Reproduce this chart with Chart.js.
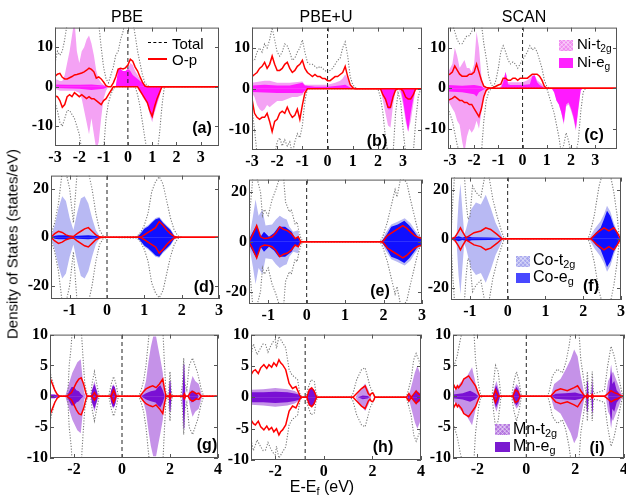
<!DOCTYPE html>
<html>
<head>
<meta charset="utf-8">
<script src="https://cdn.jsdelivr.net/npm/chart.js@4.4.1/dist/chart.umd.min.js"></script>
<style>
  body { margin: 0; background: #fff; }
  #fig { position: relative; width: 626px; height: 497px; overflow: hidden; font-family: Arial, "Liberation Sans", sans-serif; background: #fff; }
  #fig canvas { position: absolute; z-index: 1; }
  .t { position: absolute; white-space: nowrap; color: #000; z-index: 2; line-height: 1; }
  .c { transform: translate(-50%, -50%); }
  .m { transform: translateY(-50%); }
  .lab { font-weight: bold; font-size: 16px; }
  .leg { font-size: 15px; }
  .leg sub, .xt sub { font-size: 0.68em; vertical-align: -0.35em; }
  .box { position: absolute; z-index: 2; }
  .hatch { background-image: repeating-linear-gradient(45deg, rgba(255,255,255,.35) 0 1px, transparent 1px 3px), repeating-linear-gradient(-45deg, rgba(255,255,255,.35) 0 1px, transparent 1px 3px); }
</style>
</head>
<body>
<div id="fig">
  <div class="t c" style="left:127px;top:17px;font-size:16px">PBE</div>
  <div class="t c" style="left:326px;top:17px;font-size:16px">PBE+U</div>
  <div class="t c" style="left:524px;top:17px;font-size:16px">SCAN</div>
  <div class="t c" style="left:12px;top:244px;font-size:15px;transform:translate(-50%,-50%) rotate(-90deg)">Density of States (states/eV)</div>
  <div class="t c xt" style="left:322px;top:488px;font-size:16px">E-E<sub>f</sub> (eV)</div>

  <div class="t c lab" style="left:202px;top:128px">(a)</div>
  <div class="t c lab" style="left:377px;top:141px">(b)</div>
  <div class="t c lab" style="left:594px;top:135px">(c)</div>
  <div class="t c lab" style="left:204px;top:287px">(d)</div>
  <div class="t c lab" style="left:380px;top:291px">(e)</div>
  <div class="t c lab" style="left:591px;top:286px">(f)</div>
  <div class="t c lab" style="left:207px;top:445px">(g)</div>
  <div class="t c lab" style="left:383px;top:447px">(h)</div>
  <div class="t c lab" style="left:597px;top:448px">(i)</div>

  <!-- legend (a) -->
  <div class="box" style="left:148px;top:42px;width:19px;border-top:1.5px dashed #000"></div>
  <div class="t m leg" style="left:172px;top:43px">Total</div>
  <div class="box" style="left:148px;top:58px;width:19px;border-top:2px solid #ff0000"></div>
  <div class="t m leg" style="left:172px;top:59px">O-p</div>
  <!-- legend (c) -->
  <div class="box hatch" style="left:559px;top:40px;width:14px;height:11px;background-color:#f08ef0"></div>
  <div class="t m leg" style="left:577px;top:45px">Ni-t<sub>2g</sub></div>
  <div class="box" style="left:559px;top:58px;width:14px;height:10px;background:#ff22ff"></div>
  <div class="t m leg" style="left:577px;top:63px">Ni-e<sub>g</sub></div>
  <!-- legend (f) -->
  <div class="box hatch" style="left:516px;top:256px;width:14px;height:11px;background-color:#a8a8ee"></div>
  <div class="t m leg" style="left:533px;top:261px;font-size:16px">Co-t<sub>2g</sub></div>
  <div class="box" style="left:516px;top:273px;width:14px;height:10px;background:#4848ff"></div>
  <div class="t m leg" style="left:533px;top:278px;font-size:16px">Co-e<sub>g</sub></div>
  <!-- legend (i) -->
  <div class="box hatch" style="left:495px;top:424px;width:15px;height:11px;background-color:#b678e0"></div>
  <div class="t m leg" style="left:513px;top:430px;font-size:16px">Mn-t<sub>2g</sub></div>
  <div class="box" style="left:495px;top:442px;width:15px;height:10px;background:#7a1ad0"></div>
  <div class="t m leg" style="left:513px;top:447px;font-size:16px">Mn-e<sub>g</sub></div>
</div>

<script>
// tick labels
const XT_ROW1 = [-3, -2, -1, 0, 1, 2, 3];
const YT_ROW1 = [-10, 0, 10];
const XT_ROW2 = [-1, 0, 1, 2, 3];
const YT_ROW2 = [-20, 0, 20];
const XT_ROW3 = [-2, 0, 2, 4];
const YT_ROW3 = [-10, -5, 0, 5, 10];

// ---- (a) PBE, Ni : [energy, DOS] ----
const a_tot_up = [[-3,6],[-2.9,9],[-2.8,8],[-2.7,9],[-2.6,12],[-2.5,16],[-2.4,20],[-1.3,20],[-1.2,16],[-1.1,10],[-1.0,5],[-0.9,2],[-0.8,1],[-0.7,3],[-0.6,5],[-0.5,8],[-0.4,9],[-0.3,12],[-0.2,14],[-0.1,17],[0,15],[0.1,18],[0.2,17],[0.3,13],[0.4,9],[0.5,6],[0.6,3],[0.7,1],[0.8,0.3],[0.9,0],[3.75,0]];
const a_tot_dn = [[-3,-4],[-2.9,-6],[-2.8,-9],[-2.7,-10],[-2.6,-8],[-2.5,-6],[-2.4,-6],[-2.3,-7],[-2.2,-8],[-2.1,-10],[-2.0,-12],[-1.9,-16],[-1.0,-16],[-0.9,-8],[-0.8,-4],[-0.7,-2],[-0.6,-0.5],[-0.5,0],[0.3,0],[0.4,-2],[0.5,-5],[0.6,-9],[0.7,-13],[0.8,-17],[1.2,-17],[1.3,-12],[1.4,-5],[1.5,0],[3.75,0]];
const a_op_up = [[-3,2.6],[-2.9,3.2],[-2.8,3.4],[-2.7,2.4],[-2.6,2],[-2.5,2],[-2.4,2.3],[-2.3,2.6],[-2.2,3],[-2.1,3.1],[-2.0,3.3],[-1.9,3.5],[-1.8,3.8],[-1.7,4.2],[-1.6,4.7],[-1.5,4.4],[-1.4,3.8],[-1.3,2.2],[-1.2,2.5],[-1.1,2],[-1.0,1.2],[-0.9,0.3],[-0.8,0],[-0.7,0],[-0.6,1],[-0.5,2.5],[-0.4,4.5],[-0.3,4.7],[-0.2,4.5],[-0.1,4.8],[0,5.5],[0.1,7],[0.2,6.5],[0.3,5],[0.4,4],[0.5,2.5],[0.6,1.2],[0.7,0.2],[0.8,0],[3.75,0]];
const a_op_dn = [[-3,-2.3],[-2.9,-2.5],[-2.8,-3.5],[-2.7,-5.2],[-2.6,-4.5],[-2.5,-2.5],[-2.4,-2],[-2.3,-2.5],[-2.2,-1.5],[-2.1,-2],[-2.0,-2.5],[-1.9,-2],[-1.8,-2.5],[-1.7,-3],[-1.6,-2.5],[-1.5,-3],[-1.4,-3],[-1.3,-3.5],[-1.2,-4],[-1.1,-4.5],[-1.0,-3.5],[-0.9,-3],[-0.8,-2],[-0.7,-1],[-0.6,0],[0.4,0],[0.5,-1],[0.6,-2],[0.7,-3],[0.8,-4],[0.9,-6],[1.0,-7.5],[1.1,-5],[1.2,-3],[1.3,-1.5],[1.4,0],[3.75,0]];
const a_t2g_up = [[-3,2],[-2.9,1.8],[-2.8,1.5],[-2.7,1.5],[-2.6,3],[-2.5,6],[-2.4,9],[-2.3,13],[-2.2,17],[-2.1,9],[-2.0,6],[-1.9,9],[-1.8,10],[-1.7,12],[-1.6,13],[-1.5,11],[-1.4,8],[-1.3,4],[-1.2,2],[-1.1,1],[-1.0,0.5],[-0.9,0],[-0.5,0],[-0.4,3.5],[-0.3,3.5],[-0.2,3.5],[-0.1,3.5],[0,4.5],[0.1,6],[0.2,5.5],[0.3,4],[0.4,3],[0.5,2],[0.6,1],[0.7,0.3],[0.8,0]];
const a_t2g_dn = [[-3,-0.5],[-2.8,-1],[-2.5,-1],[-2.2,-1],[-2.0,-1.5],[-1.9,-3],[-1.8,-6],[-1.7,-9],[-1.6,-12],[-1.5,-8],[-1.4,-12],[-1.3,-16],[-1.2,-14],[-1.1,-8],[-1.0,-3],[-0.9,-1],[-0.8,0],[0.4,0],[0.5,-1],[0.6,-2.5],[0.7,-3.5],[0.8,-4.5],[0.9,-7],[1.0,-9],[1.1,-6.5],[1.2,-4.5],[1.3,-2.5],[1.4,0]];
const a_eg_up = [[-3,0.6],[-2.5,0.5],[-2.0,0.5],[-1.5,0.6],[-1.0,0.3],[-0.8,0],[-0.5,0],[-0.4,4.5],[-0.3,4.5],[-0.2,4],[-0.1,4],[0,4.5],[0.1,4],[0.2,3],[0.3,2.5],[0.4,2],[0.5,1.5],[0.6,1],[0.7,0.3],[0.8,0]];
const a_eg_dn = [[-3,-0.3],[-2.0,-0.5],[-1.5,-0.8],[-1.0,-0.5],[-0.8,0],[0.4,0],[0.5,-1],[0.6,-2],[0.7,-3],[0.8,-4],[0.9,-6],[1.0,-8],[1.1,-6],[1.2,-4],[1.3,-2],[1.4,0]];

// ---- (b) PBE+U, Ni ----
const b_tot_up = [[-3,7],[-2.9,7],[-2.8,9],[-2.7,10],[-2.6,9],[-2.5,11],[-2.4,10],[-2.3,12],[-2.2,15],[-2.1,12],[-2.0,9],[-1.9,8],[-1.8,9],[-1.7,11],[-1.6,10.5],[-1.5,9],[-1.4,7],[-1.3,7.5],[-1.2,9],[-1.1,10],[-1.0,12],[-0.9,9],[-0.8,6.5],[-0.7,6],[-0.6,6],[-0.5,5.5],[-0.4,5],[-0.3,5.5],[-0.2,5],[-0.1,4.5],[0,4],[0.1,4.5],[0.2,5],[0.3,6],[0.4,7],[0.5,7.5],[0.6,10],[0.7,11.5],[0.8,8],[0.9,3],[1.0,1],[1.1,0.3],[1.2,0]];
const b_tot_dn = [[-3,-5],[-2.9,-10],[-2.8,-16],[-2.1,-16],[-2.0,-13],[-1.9,-12],[-1.8,-14],[-1.7,-12.5],[-1.6,-14],[-1.5,-13],[-1.4,-16],[-1.3,-13],[-1.2,-11],[-1.1,-12],[-1.0,-9],[-0.9,-3],[-0.8,0],[2.0,0],[2.1,-2],[2.2,-6],[2.3,-12],[2.4,-16],[2.6,-16],[2.7,-6],[2.8,-1],[2.9,-3],[3.0,-10],[3.1,-16],[3.4,-16],[3.5,-8],[3.6,-2],[3.7,0]];
const b_op_up = [[-3,3],[-2.9,3.5],[-2.8,4],[-2.7,5],[-2.6,5.5],[-2.5,6.5],[-2.4,5],[-2.3,6],[-2.2,8],[-2.1,6],[-2.0,4.5],[-1.9,4.5],[-1.8,5],[-1.7,6],[-1.6,6.5],[-1.5,5],[-1.4,4],[-1.3,4.5],[-1.2,5.5],[-1.1,6],[-1.0,7],[-0.9,5],[-0.8,4],[-0.7,3.5],[-0.6,3],[-0.5,3.5],[-0.4,3],[-0.3,3],[-0.2,2.5],[-0.1,2.5],[0,2],[0.1,2],[0.2,2.5],[0.3,3],[0.4,3],[0.5,3.5],[0.6,4],[0.7,5.5],[0.8,3],[0.9,1],[1.0,0.3],[1.1,0],[3.75,0]];
const b_op_dn = [[-3,-2.5],[-2.9,-6],[-2.8,-7],[-2.7,-7.5],[-2.6,-7],[-2.5,-7],[-2.4,-6],[-2.3,-8],[-2.2,-10.5],[-2.1,-8],[-2.0,-7.5],[-1.9,-6],[-1.8,-5.5],[-1.7,-6],[-1.6,-4.5],[-1.5,-6],[-1.4,-7],[-1.3,-6.5],[-1.2,-5],[-1.1,-7.5],[-1.0,-4],[-0.9,-1],[-0.8,0],[2.1,0],[2.2,-1.5],[2.3,-2.5],[2.4,-4.5],[2.5,-4.5],[2.6,-2],[2.7,-0.3],[2.8,0],[2.9,0],[3.0,-0.5],[3.1,-2],[3.2,-2.5],[3.3,-2.5],[3.4,-1.5],[3.5,0],[3.75,0]];
const b_t2g_up = [[-3,1.5],[-2.5,2],[-2.3,2],[-2.0,1.5],[-1.5,1.5],[-1.0,1.8],[-0.9,1],[-0.5,1],[0,1],[0.3,1.5],[0.5,2],[0.6,2.5],[0.7,3.5],[0.8,2.5],[0.9,1],[1.0,0.3],[1.1,0]];
const b_t2g_dn = [[-3,-1],[-2.9,-2],[-2.8,-4],[-2.7,-5],[-2.6,-5.5],[-2.5,-5],[-2.4,-4],[-2.3,-4.5],[-2.2,-4],[-2.0,-3],[-1.8,-3],[-1.6,-2.5],[-1.4,-2],[-1.2,-2],[-1.0,-1.5],[-0.9,-0.5],[-0.8,0],[2.1,0],[2.2,-3],[2.3,-6],[2.4,-9],[2.5,-9.5],[2.6,-4],[2.7,-0.5],[2.8,0],[2.9,-1],[3.0,-4],[3.1,-8],[3.2,-10.5],[3.3,-8],[3.4,-4],[3.5,0]];
const b_eg_up = [[-3,0.8],[-2.5,1],[-2.0,0.8],[-1.5,0.8],[-1.0,1.5],[-0.9,0.8],[-0.5,0.5],[0,0.5],[0.5,0.8],[0.7,1],[0.9,0.3],[1.0,0]];
const b_eg_dn = [[-3,-0.8],[-2.0,-1],[-1.0,-1],[-0.8,0],[2.1,0],[2.2,-1.5],[2.3,-3],[2.4,-5],[2.5,-5],[2.6,-2],[2.7,0],[2.9,0],[3.0,-3],[3.1,-7],[3.2,-10.5],[3.3,-6],[3.4,-2.5],[3.5,0]];

// ---- (c) SCAN, Ni ----
const c_tot_up = [[-3.08,16],[-2.9,16],[-2.8,14],[-2.7,12],[-2.6,11],[-2.5,11],[-2.4,12],[-2.3,13],[-2.2,13],[-2.1,14],[-2.0,16],[-1.7,16],[-1.6,11],[-1.5,7.5],[-1.4,3],[-1.3,1],[-1.2,0.3],[-1.1,2],[-1.0,5],[-0.9,9],[-0.8,10.5],[-0.7,9],[-0.6,7],[-0.5,6],[-0.4,6.5],[-0.3,6],[-0.2,5],[-0.1,6],[0,7],[0.1,8],[0.2,9],[0.3,10.5],[0.4,9.5],[0.5,10],[0.6,9],[0.7,7],[0.8,5],[0.9,2],[1.0,0.5],[1.1,0]];
const c_tot_dn = [[-3.08,-5],[-2.9,-8],[-2.8,-11],[-2.7,-14],[-2.6,-16],[-1.7,-16],[-1.6,-8],[-1.5,-3],[-1.4,-1],[-1.3,0],[1.0,0],[1.1,-2],[1.2,-4],[1.3,-6],[1.4,-9],[1.5,-12],[1.6,-16],[1.7,-14],[1.8,-11],[1.9,-13],[2.0,-16],[2.2,-16],[2.3,-13],[2.4,-6],[2.5,-1],[2.6,0]];
const c_op_up = [[-3.08,3.3],[-3.0,3.5],[-2.9,4],[-2.8,5.5],[-2.7,4.5],[-2.6,3.5],[-2.5,3],[-2.4,3],[-2.3,3],[-2.2,3.5],[-2.1,3.5],[-2.0,4],[-1.9,6],[-1.8,4],[-1.7,2],[-1.6,0.5],[-1.5,0.2],[-1.3,0],[-1.2,0.2],[-1.1,0.5],[-1.0,0.8],[-0.9,1],[-0.8,2.5],[-0.7,2.5],[-0.6,2],[-0.5,2],[-0.4,2.5],[-0.3,2.5],[-0.2,2],[-0.1,2.5],[0,2.5],[0.1,2.5],[0.2,2.5],[0.3,3],[0.4,3.5],[0.5,3.5],[0.6,3.5],[0.7,3],[0.8,2],[0.9,0.5],[1.0,0],[3.9,0]];
const c_op_dn = [[-3.08,-3],[-2.9,-2.5],[-2.8,-2],[-2.7,-2.5],[-2.6,-3],[-2.5,-3],[-2.4,-3.5],[-2.3,-3.5],[-2.2,-4],[-2.1,-4],[-2.0,-5],[-1.9,-6],[-1.8,-7],[-1.7,-5],[-1.6,-2],[-1.5,-0.5],[-1.4,0],[3.9,0]];
const c_t2g_up = [[-3.08,4],[-2.9,6],[-2.8,10],[-2.7,8],[-2.6,5],[-2.5,6],[-2.4,7],[-2.3,5],[-2.2,5],[-2.1,4],[-2.0,6],[-1.9,14],[-1.8,10],[-1.7,3],[-1.6,0.5],[-1.5,0],[-1.0,0],[-0.9,0.5],[-0.8,2],[-0.7,4],[-0.6,1.5],[-0.5,1.5],[-0.3,1.5],[0,1.5],[0.2,2],[0.3,2.5],[0.4,3.2],[0.5,3.2],[0.6,2],[0.7,1.5],[0.8,1],[0.9,0.3],[1.0,0]];
const c_t2g_dn = [[-3.08,-3],[-2.9,-5],[-2.8,-6],[-2.7,-8],[-2.6,-9],[-2.5,-13],[-2.4,-16],[-2.3,-12],[-2.2,-10],[-2.1,-11],[-2.0,-10],[-1.9,-8],[-1.8,-10],[-1.7,-6],[-1.6,-2],[-1.5,-0.5],[-1.4,0],[1.3,0],[1.4,-3],[1.5,-4],[1.6,-6],[1.7,-9],[1.8,-4.5],[1.9,-4],[2.0,-5.5],[2.1,-7.5],[2.2,-10.5],[2.3,-5.5],[2.4,-0.5],[2.5,0]];
const c_eg_up = [[-3.08,0.8],[-2.5,0.6],[-2.0,0.8],[-1.7,0.5],[-1.6,0],[-0.9,0],[-0.8,1.5],[-0.7,4],[-0.6,1],[-0.5,0.8],[0,0.8],[0.3,1],[0.4,3],[0.5,3.2],[0.6,1.5],[0.7,0.8],[0.8,0.5],[0.9,0]];
const c_eg_dn = [[-3.08,-0.8],[-2.5,-1],[-2.0,-1.5],[-1.9,-2],[-1.8,-1],[-1.6,-0.3],[-1.5,0],[1.2,0],[1.3,-1],[1.4,-3],[1.5,-4],[1.6,-6],[1.7,-8.5],[1.8,-4],[1.9,-3.5],[2.0,-5],[2.1,-7],[2.2,-10],[2.3,-5],[2.4,-0.5],[2.5,0]];

// ---- (d)-(f) Co, spin up = spin down ----
const d_tot = [[-1.5,1],[-1.4,6],[-1.3,14],[-1.2,27],[-1.1,27],[-1.0,20],[-0.9,6],[-0.8,27],[-0.5,27],[-0.4,20],[-0.3,10],[-0.2,3],[-0.1,0.5],[0,0],[0.8,0.3],[0.9,2],[1.0,5],[1.1,10],[1.2,19],[1.3,23],[1.4,25],[1.5,22],[1.6,15],[1.7,8],[1.8,3],[1.9,0.5],[2.0,0]];
const d_op = [[-1.5,0],[-1.4,1.5],[-1.3,2.5],[-1.2,2],[-1.1,1],[-1.0,0.5],[-0.9,0.3],[-0.8,1.5],[-0.7,2.5],[-0.6,3.5],[-0.5,4],[-0.4,2.5],[-0.3,1],[-0.2,0.2],[-0.1,0],[0.9,0],[1.0,1],[1.1,2],[1.2,3],[1.3,4],[1.4,6.5],[1.5,5],[1.6,3],[1.7,1.5],[1.8,0.3],[1.9,0],[3,0]];
const d_t2g = [[-1.5,0.5],[-1.4,5],[-1.3,12],[-1.2,17],[-1.1,15],[-1.0,8],[-0.9,3],[-0.8,10],[-0.7,16],[-0.6,17],[-0.5,14],[-0.4,8],[-0.3,3],[-0.2,0.5],[-0.1,0],[0.8,0],[0.9,2],[1.0,4],[1.1,5],[1.2,6.5],[1.3,8],[1.4,8.5],[1.5,6.5],[1.6,5],[1.7,3.5],[1.8,1],[1.9,0]];
const d_eg = [[-1.5,0],[-1.4,0.6],[-1.3,0.8],[-1.1,0.8],[-1.0,0.5],[-0.9,0.3],[-0.8,0.6],[-0.5,0.8],[-0.3,0.5],[-0.2,0.2],[-0.1,0],[0.8,0],[0.9,1.5],[1.0,3.5],[1.1,4.5],[1.2,6],[1.3,7.5],[1.4,8],[1.5,6],[1.6,4.5],[1.7,3],[1.8,0.5],[1.9,0]];

const e_tot = [[-1.5,8],[-1.4,26],[-1.3,26],[-1.2,20],[-1.15,10.5],[-1.1,13],[-1.0,10.5],[-0.9,17],[-0.8,21],[-0.7,26],[-0.6,26],[-0.55,16],[-0.45,12],[-0.4,13],[-0.3,7],[-0.25,8],[-0.2,4],[-0.15,1.5],[-0.1,0],[1.9,0],[1.95,1],[2.0,3],[2.1,8],[2.2,14.5],[2.3,21],[2.35,18],[2.45,26],[2.6,24],[2.7,17],[2.8,10.5],[2.9,4],[3.0,0]];
const e_op = [[-1.5,0],[-1.4,3],[-1.3,6.5],[-1.2,2],[-1.1,1.3],[-1.0,1.5],[-0.9,2],[-0.8,3.5],[-0.7,6],[-0.6,5],[-0.5,4.5],[-0.4,3.3],[-0.3,1.3],[-0.22,2],[-0.15,0],[1.95,0],[2.0,0.5],[2.1,2.5],[2.2,3.5],[2.3,4.5],[2.4,5.5],[2.5,6.5],[2.6,5.5],[2.7,4],[2.8,2.6],[2.9,1.8],[3.0,1.3]];
const e_t2g = [[-1.5,1],[-1.4,10],[-1.33,17],[-1.25,10.5],[-1.15,13],[-1.07,6.6],[-0.9,7],[-0.8,9],[-0.7,10.5],[-0.6,9.5],[-0.52,9],[-0.45,6],[-0.35,4],[-0.22,4.6],[-0.17,0],[1.95,0],[2.05,3.5],[2.2,7],[2.35,8],[2.55,9.5],[2.7,7.5],[2.8,5],[2.9,3],[3.0,1.5]];
const e_eg = [[-1.5,1],[-1.4,4],[-1.3,6.6],[-1.2,2],[-1.11,4],[-0.98,2],[-0.85,3.5],[-0.73,6],[-0.56,6],[-0.39,4],[-0.3,1.3],[-0.22,2],[-0.17,0],[1.94,0],[2.07,2.6],[2.2,6],[2.37,7],[2.54,8.5],[2.67,6.6],[2.8,4],[2.89,2],[3.0,1]];

const f_tot = [[-1.5,2],[-1.45,16],[-1.4,27],[-1.15,27],[-1.1,15],[-1.05,8],[-1.0,9],[-0.93,21.6],[-0.84,19],[-0.71,17],[-0.6,26],[-0.5,26],[-0.39,16],[-0.28,9.3],[-0.19,4.5],[-0.1,0.4],[0,0],[2.1,0],[2.16,1],[2.29,9.3],[2.42,21.6],[2.5,26],[2.72,26],[2.81,19],[2.9,9.3],[2.95,1],[3.0,0]];
const f_op = [[-1.5,0],[-1.4,0.5],[-1.3,3],[-1.25,4.5],[-1.2,3],[-1.1,0.4],[-0.89,2.5],[-0.71,3.2],[-0.58,4.5],[-0.45,3.8],[-0.28,1.8],[-0.15,0],[2.2,0],[2.37,2.5],[2.55,4.5],[2.68,3.2],[2.81,4.5],[2.9,2.5],[2.97,0.5],[3.0,0]];
const f_t2g = [[-1.5,0],[-1.35,2],[-1.3,15],[-1.25,22.5],[-1.2,12],[-1.15,2],[-1.1,4],[-0.97,12],[-0.84,14.8],[-0.71,14],[-0.58,18],[-0.45,12.7],[-0.32,6.6],[-0.19,2.5],[-0.12,0],[2.15,0],[2.3,4],[2.45,7],[2.55,10],[2.63,13.5],[2.72,11],[2.81,6.5],[2.9,3],[2.95,0.5],[3.0,0]];
const f_eg = [[-1.5,0],[-1.4,0.5],[-1.3,1],[-1.2,0.5],[-1.05,1],[-0.95,0.6],[-0.5,0.5],[-0.2,0.3],[-0.12,0],[2.2,0],[2.33,2.5],[2.46,4.5],[2.55,8],[2.63,11.5],[2.72,9.3],[2.81,5.2],[2.9,2.5],[2.95,0.3],[3.0,0]];

// ---- (g)-(i) Mn, spin up = spin down ----
const g_tot = [[-3,4],[-2.9,2.5],[-2.8,1],[-2.7,0.3],[-2.6,0],[-2.3,0],[-2.25,1],[-2.2,5],[-2.12,8],[-2.07,11],[-1.7,11],[-1.62,6],[-1.55,2],[-1.47,0.5],[-1.4,0],[-1.3,0],[-1.25,2],[-1.15,4],[-1.05,2],[-0.95,0],[-0.55,0],[-0.45,2],[-0.35,3.2],[-0.25,2],[-0.15,0],[0.7,0],[0.8,1],[0.9,2.5],[1.0,5],[1.1,9],[1.15,11],[1.7,11],[1.76,6],[1.83,0.6],[1.9,0],[1.95,1],[2.0,4],[2.05,1],[2.1,0],[2.45,0],[2.52,2],[2.57,6.2],[2.62,2],[2.7,1],[2.8,5],[2.94,6.2],[3.15,3.8],[3.3,1.2],[3.4,0],[4,0]];
const g_op = [[-3,3],[-2.9,2],[-2.8,1],[-2.7,0.3],[-2.6,0],[-2.3,0],[-2.1,0.6],[-2.0,1.4],[-1.9,2.2],[-1.8,2.8],[-1.7,3],[-1.6,2],[-1.5,0.4],[-1.45,0],[-1.25,0],[-1.15,0.6],[-1.05,0],[-0.45,0],[-0.35,1],[-0.25,0],[0.75,0],[0.9,0.8],[1.0,1.2],[1.15,1.5],[1.28,1.7],[1.42,1.4],[1.56,2],[1.7,2.8],[1.76,1.4],[1.83,0],[1.95,0],[2.0,0.4],[2.05,0],[2.55,0],[2.6,0.4],[2.65,0],[2.75,0],[2.85,0.6],[2.95,0.8],[3.1,0.4],[3.2,0.5],[3.3,0],[4,0]];
const g_t2g = [[-3,0.3],[-2.8,0.2],[-2.4,0],[-2.35,0.2],[-2.2,2.2],[-2.07,3.8],[-1.86,5.5],[-1.72,6],[-1.65,3.3],[-1.58,0.6],[-1.5,0],[-1.3,0],[-1.25,1],[-1.15,2.5],[-1.05,1],[-0.98,0],[-0.5,0],[-0.45,1],[-0.35,2],[-0.25,1],[-0.2,0],[0.78,0],[0.9,1],[1.0,2.5],[1.1,5.5],[1.2,8],[1.3,9.7],[1.42,9.7],[1.5,8],[1.6,6],[1.7,3.8],[1.76,0.6],[1.82,0],[1.95,0],[2.0,3],[2.05,0],[2.5,0],[2.57,3],[2.62,0],[2.75,0],[2.85,2],[2.94,3.3],[3.05,2.5],[3.2,2],[3.3,0.5],[3.35,0]];
const g_eg = [[-3,0.3],[-2.8,0.3],[-2.6,0],[-2.3,0],[-2.2,0.8],[-2.1,1.5],[-2.0,1.5],[-1.9,1],[-1.8,0.8],[-1.7,0.3],[-1.6,0],[-1.3,0],[-1.25,1],[-1.15,2],[-1.05,0.8],[-1.0,0],[-0.5,0],[-0.45,1],[-0.38,1.8],[-0.3,1.5],[-0.22,0],[0.8,0],[1.0,0.5],[1.2,0.8],[1.4,1],[1.5,1.5],[1.6,1.8],[1.7,1],[1.78,0],[1.95,0],[1.98,2.5],[2.02,2.5],[2.06,0],[2.52,0],[2.56,5.2],[2.6,5.2],[2.64,0],[2.8,0],[2.9,1],[3.0,0.8],[3.1,0.5],[3.2,0]];

const h_tot = [[-3,6.8],[-2.9,8.5],[-2.82,7.6],[-2.75,6.8],[-2.6,7.9],[-2.5,8.5],[-2.4,8.4],[-2.3,7.2],[-2.2,8.1],[-2.1,8.8],[-2.0,9.2],[-1.95,7.8],[-1.85,9.7],[-1.7,8.7],[-1.57,7.9],[-1.43,4.4],[-1.3,3.5],[-1.22,3.3],[-1.08,2.8],[-0.99,0.6],[-0.9,0],[-0.72,0],[-0.67,1.2],[-0.53,2.8],[-0.39,2.5],[-0.32,0.6],[-0.25,0],[1.1,0],[1.2,0.6],[1.35,2.8],[1.55,4.4],[1.7,4.7],[1.83,2.8],[1.9,1.7],[2.04,0.6],[2.1,0],[3.4,0],[3.5,1.5],[3.6,3],[3.7,6],[3.8,7],[3.9,6],[4.0,5]];
const h_op = [[-3,3.6],[-2.9,4.2],[-2.82,4.4],[-2.7,3.8],[-2.6,4.7],[-2.47,5.2],[-2.35,4.6],[-2.26,5.2],[-2.15,4.8],[-2.06,5.5],[-1.95,5],[-1.85,6],[-1.78,5.5],[-1.7,5.2],[-1.57,4.4],[-1.43,2.2],[-1.29,1.4],[-1.15,1.7],[-1.0,0.4],[-0.94,0],[-0.7,0],[-0.6,1.2],[-0.5,1.5],[-0.4,1],[-0.3,0],[1.2,0],[1.35,0.6],[1.55,1.4],[1.7,1.8],[1.83,0.6],[1.9,0.3],[1.95,0.6],[2.0,0.7],[2.05,0.5],[2.1,0],[3.4,0],[3.5,0.6],[3.6,0],[3.7,0.5],[3.8,1],[3.9,0.5],[4,0.3]];
const h_t2g = [[-3,1.2],[-2.5,1.3],[-2.0,1.5],[-1.5,1.3],[-1.2,1],[-1.0,0.5],[-0.9,0],[-0.7,0],[-0.6,1],[-0.5,1.5],[-0.4,1],[-0.3,0],[1.3,0],[1.45,1],[1.55,1.4],[1.7,2.2],[1.83,1.2],[1.95,0],[3.45,0],[3.55,1],[3.65,2.5],[3.75,4],[3.85,5],[3.95,4],[4,3]];
const h_eg = [[-3,0.8],[-2.5,0.8],[-2.0,0.9],[-1.5,0.8],[-1.2,0.6],[-1.0,0.4],[-0.9,0],[-0.7,0],[-0.6,1.2],[-0.5,1.5],[-0.4,1.2],[-0.3,0],[1.4,0],[1.6,0.3],[1.8,0.2],[1.9,0],[3.45,0],[3.5,0.7],[3.55,0],[3.7,0.5],[3.8,1],[3.9,0.8],[4,0.5]];

const i_tot = [[-3,4.4],[-2.83,6.5],[-2.7,9.2],[-2.6,11],[-2.15,11],[-2.08,6],[-1.95,1.7],[-1.88,0.4],[-1.8,0],[-1.4,0],[-1.35,2],[-1.26,5],[-1.15,4],[-1.05,0.5],[-1.0,0],[-0.6,0],[-0.5,2.5],[-0.4,4],[-0.3,2.5],[-0.2,0],[0.85,0],[0.93,0.6],[1.07,3.3],[1.27,4.4],[1.48,3.8],[1.62,5.5],[1.75,8.1],[1.85,11],[2.15,11],[2.23,6],[2.37,2.2],[2.45,0.5],[2.5,4],[2.55,0.5],[2.65,0.5],[2.7,4],[2.75,0.5],[2.85,0.5],[3.2,1],[3.33,4.9],[3.47,8.1],[3.6,6.5],[3.74,3.8],[3.88,1.2],[3.95,0],[4,0]];
const i_op = [[-3,1.2],[-2.95,1.7],[-2.88,1.2],[-2.82,1.7],[-2.77,1.4],[-2.65,2],[-2.56,2.8],[-2.36,3.3],[-2.22,2.5],[-2.08,1.7],[-1.95,0.4],[-1.9,0],[-1.35,0],[-1.26,1],[-1.15,0],[-0.55,0],[-0.45,1],[-0.35,0.8],[-0.25,0],[1.0,0],[1.2,0.9],[1.4,1.2],[1.68,0.9],[1.96,1.4],[2.1,1.7],[2.23,0.9],[2.37,0.1],[2.45,0],[2.5,0.3],[2.55,0],[2.65,0],[2.7,0.3],[2.75,0],[3.2,0],[3.33,0.4],[3.47,0.9],[3.6,0.6],[3.74,0.4],[3.88,0.1],[4,0]];
const i_t2g = [[-3,0.6],[-2.7,2.2],[-2.42,3.3],[-2.22,4.7],[-2.08,2.2],[-1.95,0.4],[-1.9,0],[-1.38,0],[-1.3,1.5],[-1.22,2.5],[-1.12,1],[-1.05,0],[-0.6,0],[-0.5,1.2],[-0.4,2],[-0.3,1.5],[-0.22,0],[1.0,0],[1.14,2],[1.4,2.8],[1.62,4.4],[1.82,6],[1.96,7.6],[2.1,6.5],[2.23,3.3],[2.37,0.5],[2.45,0],[2.5,3],[2.55,0],[2.65,0],[2.7,3.5],[2.75,0],[3.25,0],[3.35,2.5],[3.45,3.3],[3.55,4],[3.65,3],[3.8,1.5],[3.9,0.3],[4,0]];
const i_eg = [[-3,0.3],[-2.6,0.5],[-2.3,0.9],[-2.1,0.5],[-1.95,0],[-1.38,0],[-1.3,1],[-1.24,1.8],[-1.15,1],[-1.08,0],[-0.55,0],[-0.48,1],[-0.4,1.5],[-0.32,1],[-0.25,0],[1.0,0],[1.2,0.4],[1.6,0.5],[2.0,0.6],[2.3,0.3],[2.45,0],[2.48,2.5],[2.52,2.5],[2.55,0],[2.67,0],[2.7,2.5],[2.73,0],[3.35,0],[3.42,2],[3.47,5.2],[3.52,2],[3.6,2.5],[3.7,1],[3.8,0.5],[3.9,0]];

// colours of the projected d states
const NI = { t2g: '#f4a2f4', eg: '#ff1aff' };
const CO = { t2g: '#b8b9f3', eg: '#1010ff' };
const MN = { t2g: '#c592e8', eg: '#7a10d4' };

// plot boxes in page pixels: left, top, right, bottom
const PANELS = [
  { box: [55, 26, 219, 146], x: [-3, 3.75], y: [-15, 15], xt: XT_ROW1, yt: YT_ROW1, ef: 0, col: NI,
    up: { tot: a_tot_up, op: a_op_up, t2g: a_t2g_up, eg: a_eg_up }, dn: { tot: a_tot_dn, op: a_op_dn, t2g: a_t2g_dn, eg: a_eg_dn } },
  { box: [252, 26, 422, 150], x: [-3, 3.75], y: [-15, 15], xt: XT_ROW1, yt: YT_ROW1, ef: 0, col: NI,
    up: { tot: b_tot_up, op: b_op_up, t2g: b_t2g_up, eg: b_eg_up }, dn: { tot: b_tot_dn, op: b_op_dn, t2g: b_t2g_dn, eg: b_eg_dn } },
  { box: [448, 26, 617, 149], x: [-3.08, 3.9], y: [-15, 15], xt: XT_ROW1, yt: YT_ROW1, ef: 0, col: NI,
    up: { tot: c_tot_up, op: c_op_up, t2g: c_t2g_up, eg: c_eg_up }, dn: { tot: c_tot_dn, op: c_op_dn, t2g: c_t2g_dn, eg: c_eg_dn } },
  { box: [51, 174, 219, 299], x: [-1.5, 3], y: [-25.5, 25.5], xt: XT_ROW2, yt: YT_ROW2, ef: 0, col: CO,
    up: { tot: d_tot, op: d_op, t2g: d_t2g, eg: d_eg } },
  { box: [249, 178, 422, 304], x: [-1.5, 3], y: [-25, 25], xt: XT_ROW2, yt: YT_ROW2, ef: 0, col: CO,
    up: { tot: e_tot, op: e_op, t2g: e_t2g, eg: e_eg } },
  { box: [451, 176, 621, 300], x: [-1.5, 3], y: [-25, 25], xt: XT_ROW2, yt: YT_ROW2, ef: 0, col: CO,
    up: { tot: f_tot, op: f_op, t2g: f_t2g, eg: f_eg } },
  { box: [50, 333, 218, 458], x: [-3, 4], y: [-10, 10], xt: XT_ROW3, yt: YT_ROW3, ef: 0, col: MN,
    up: { tot: g_tot, op: g_op, t2g: g_t2g, eg: g_eg } },
  { box: [251, 333, 421, 460], x: [-3, 4], y: [-10, 10], xt: XT_ROW3, yt: YT_ROW3, ef: -0.77, col: MN,
    up: { tot: h_tot, op: h_op, t2g: h_t2g, eg: h_eg } },
  { box: [453, 333, 624, 458], x: [-3, 4], y: [-10, 10], xt: XT_ROW3, yt: YT_ROW3, ef: 0, col: MN,
    up: { tot: i_tot, op: i_op, t2g: i_t2g, eg: i_eg } }
];

const PAD_L = 40, PAD_T = 10, PAD_R = 10, PAD_B = 22;
const tickFont = { family: '"Liberation Serif", "Times New Roman", serif', weight: 'bold', size: 16 };

// frame with inward ticks
const framePlugin = {
  id: 'frame',
  afterDatasetsDraw(chart) {
    const { ctx, chartArea: a, scales } = chart;
    ctx.save();
    ctx.strokeStyle = '#555';
    ctx.lineWidth = 1;
    ctx.strokeRect(a.left + 0.5, a.top + 0.5, a.width - 1, a.height - 1);
    ctx.beginPath();
    scales.x.ticks.forEach(t => {
      const px = Math.round(scales.x.getPixelForValue(t.value)) + 0.5;
      ctx.moveTo(px, a.bottom); ctx.lineTo(px, a.bottom - 4);
      ctx.moveTo(px, a.top); ctx.lineTo(px, a.top + 4);
    });
    scales.y.ticks.forEach(t => {
      const py = Math.round(scales.y.getPixelForValue(t.value)) + 0.5;
      ctx.moveTo(a.left, py); ctx.lineTo(a.left + 4, py);
      ctx.moveTo(a.right, py); ctx.lineTo(a.right - 4, py);
    });
    ctx.stroke();
    ctx.restore();
  }
};

function pts(arr, sign) {
  return arr.map(p => ({ x: p[0], y: sign * p[1] }));
}
function line(data, color, width, dash) {
  return { data, borderColor: color, borderWidth: width, borderDash: dash || [], fill: false, pointRadius: 0, tension: 0 };
}
function area(data, color) {
  return { data, borderColor: color, backgroundColor: color, borderWidth: 0, fill: 'origin', pointRadius: 0, tension: 0 };
}

const fig = document.getElementById('fig');
PANELS.forEach(p => {
  const [L, T, R, B] = p.box;
  const w = R - L + PAD_L + PAD_R, h = B - T + PAD_T + PAD_B;
  const cv = document.createElement('canvas');
  cv.width = w; cv.height = h;
  cv.style.left = (L - PAD_L) + 'px';
  cv.style.top = (T - PAD_T) + 'px';
  cv.style.width = w + 'px';
  cv.style.height = h + 'px';
  fig.appendChild(cv);

  // spin down: own arrays for Ni, mirrored spin up for Co and Mn
  const dn = p.dn || p.up, s = p.dn ? 1 : -1;
  const datasets = [
    line(pts(p.up.op, 1), '#ff0000', 1.5),
    line(pts(dn.op, s), '#ff0000', 1.5),
    line([{ x: p.ef, y: p.y[0] }, { x: p.ef, y: p.y[1] }], '#222', 1, [4, 3]),
    line(pts(p.up.tot, 1), '#7a7a7a', 1.1, [1.2, 1.6]),
    line(pts(dn.tot, s), '#7a7a7a', 1.1, [1.2, 1.6]),
    area(pts(p.up.eg, 1), p.col.eg),
    area(pts(dn.eg, s), p.col.eg),
    area(pts(p.up.t2g, 1), p.col.t2g),
    area(pts(dn.t2g, s), p.col.t2g)
  ];

  new Chart(cv, {
    type: 'line',
    data: { datasets },
    plugins: [framePlugin],
    options: {
      responsive: false,
      animation: false,
      events: [],
      layout: { padding: { top: PAD_T, right: PAD_R, left: 0, bottom: 0 } },
      plugins: { legend: { display: false }, tooltip: { enabled: false } },
      scales: {
        x: {
          type: 'linear', min: p.x[0], max: p.x[1],
          grid: { display: false, drawTicks: false },
          border: { display: false },
          ticks: { font: tickFont, color: '#000', padding: 2, maxRotation: 0, callback: v => String(v) },
          afterBuildTicks: sc => { sc.ticks = p.xt.map(v => ({ value: v })); },
          afterFit: sc => { sc.height = PAD_B; }
        },
        y: {
          type: 'linear', min: p.y[0], max: p.y[1],
          grid: { display: false, drawTicks: false },
          border: { display: false },
          ticks: { font: tickFont, color: '#000', padding: 2, callback: v => String(v) },
          afterBuildTicks: sc => { sc.ticks = p.yt.map(v => ({ value: v })); },
          afterFit: sc => { sc.width = PAD_L; }
        }
      }
    }
  });
});
</script>
</body>
</html>
